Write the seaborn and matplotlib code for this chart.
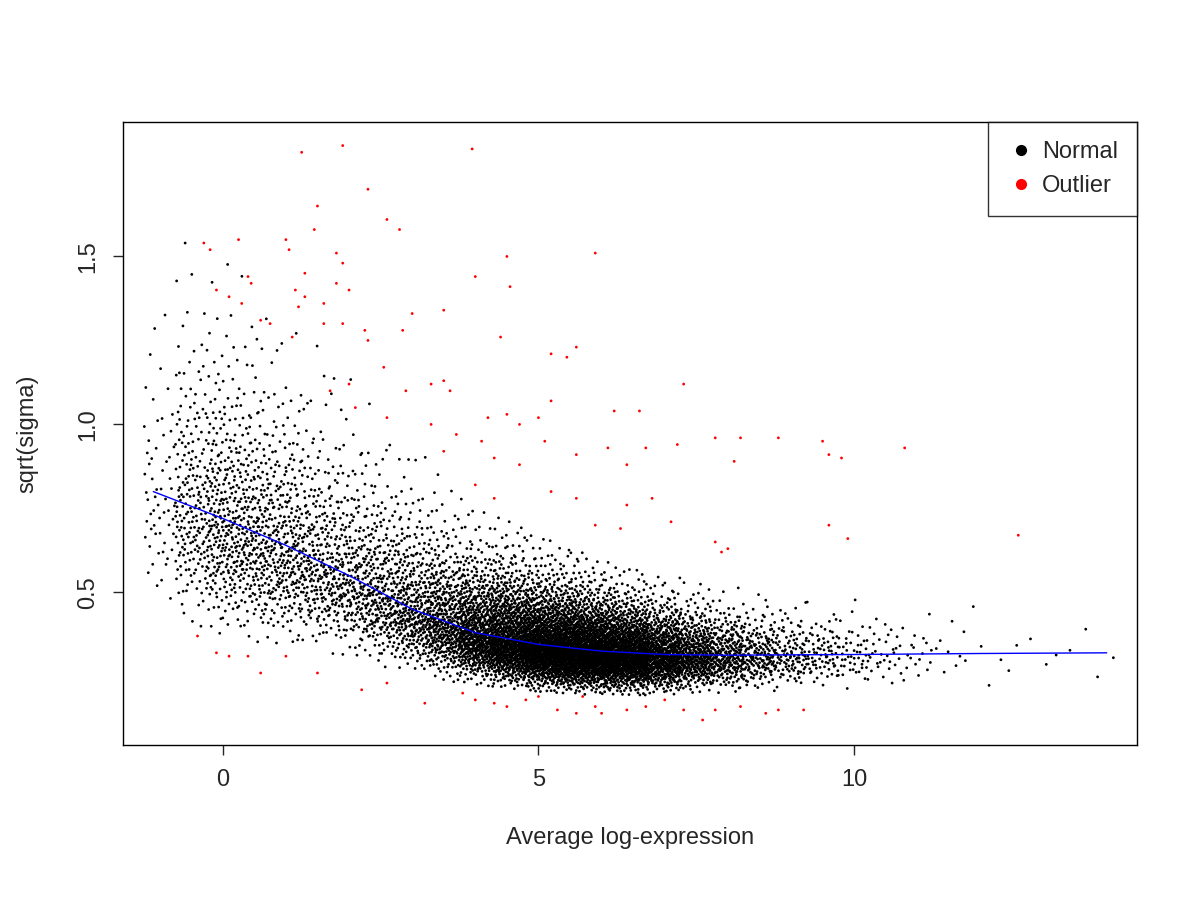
import numpy as np
import pandas as pd
import matplotlib
matplotlib.use("Agg")
import matplotlib.pyplot as plt
from matplotlib.lines import Line2D
import seaborn as sns
from statistics import NormalDist

# ── trend line ───────────────────────────────────────────────────────────
trend_x = [-1.1, 0, 1, 2, 3, 4, 5, 6, 7, 8, 10, 12, 14]
trend_y = [0.80, 0.72, 0.64, 0.55, 0.45, 0.38, 0.345, 0.325, 0.315, 0.313, 0.315, 0.318, 0.32]

# ── black cloud, summarised per 0.5-wide bin (count, spread up / down) ───
bin_x = [-1, -0.5, 0, 0.5, 1, 1.5, 2, 2.5, 3, 3.5, 4, 4.5, 5, 5.5, 6, 6.5,
         7, 7.5, 8, 8.5, 9, 9.5, 10, 10.5, 11, 11.5, 12, 12.5, 13, 13.5, 14]
bin_n = [60, 200, 280, 280, 260, 240, 240, 270, 320, 420, 600, 780, 920, 980, 940, 800,
         600, 400, 260, 170, 110, 75, 50, 30, 18, 8, 4, 3, 3, 2, 2]
bin_up = [0.27, 0.28, 0.28, 0.28, 0.28, 0.28, 0.28, 0.28, 0.28, 0.27, 0.26, 0.26, 0.25, 0.24,
          0.23, 0.22, 0.21, 0.20, 0.19, 0.18, 0.18, 0.17, 0.16, 0.16, 0.16, 0.16, 0.16,
          0.16, 0.16, 0.16, 0.16]
bin_dn = [0.22, 0.24, 0.25, 0.25, 0.24, 0.23, 0.22, 0.22, 0.21, 0.21, 0.20, 0.20, 0.20, 0.20,
          0.19, 0.19, 0.18, 0.17, 0.17, 0.16, 0.15, 0.15, 0.15, 0.15, 0.15, 0.15, 0.15,
          0.15, 0.15, 0.15, 0.15]

# ── red outliers ─────────────────────────────────────────────────────────
out_x = [1.25, 1.9, 3.95, 2.3, 1.5, 2.6, 2.8, 1.45, -0.3, -0.2, 0.25, 1.0, 1.05, 4.5, 5.9, 1.8, 1.9,
         4.0, 1.3, 0.4, 0.45, -0.1, 0.1, 1.15, 1.3, 2.0, 1.8, 4.55, 0.3, 1.2, 1.6, 3.5, 0.6, 0.75,
         1.6, 1.9, 2.25, 2.85, 3.0, 2.3, 4.4, 5.2, 5.6, 5.45, 1.1, 2.0, 2.55, 3.3, 3.6, 3.5, 7.3,
         2.9, 1.7, 2.1, 2.6, 3.3, 3.7, 4.2, 4.5, 4.7, 5.2, 6.2, 6.6, 5.0, 4.1, 5.1, 3.5, 4.3, 4.7,
         5.6, 6.1, 6.4, 6.7, 7.2, 7.8, 8.2, 8.8, 9.5, 9.6, 9.8, 10.8, 8.1, 4.0, 4.3, 5.2, 5.6, 6.4,
         6.8, 5.9, 6.3, 7.1, 7.8, 8.0, 7.9, 9.6, 9.9, 12.6, 0.6, -0.4, -0.1, 0.1, 0.4, 1.0, 1.5,
         2.2, 2.6, 3.2, 4.0, 4.3, 4.5, 5.0, 5.3, 5.6, 5.9, 6.0, 6.4, 6.7, 7.0, 7.3, 7.6, 7.8, 8.2,
         8.6, 8.8, 9.2, 3.8, 4.8, 5.7]
out_y = [1.81, 1.83, 1.82, 1.70, 1.65, 1.61, 1.58, 1.58, 1.54, 1.52, 1.55, 1.55, 1.52, 1.50, 1.51,
         1.51, 1.48, 1.44, 1.45, 1.44, 1.42, 1.40, 1.38, 1.40, 1.38, 1.40, 1.42, 1.41, 1.36, 1.35,
         1.36, 1.34, 1.31, 1.30, 1.30, 1.30, 1.28, 1.28, 1.33, 1.25, 1.26, 1.21, 1.23, 1.20, 1.26,
         1.12, 1.17, 1.12, 1.10, 1.13, 1.12, 1.10, 1.10, 1.05, 1.02, 1.00, 0.97, 1.02, 1.03, 1.00,
         1.07, 1.04, 1.04, 1.02, 0.95, 0.95, 0.92, 0.90, 0.88, 0.91, 0.93, 0.88, 0.93, 0.94, 0.96,
         0.96, 0.96, 0.95, 0.91, 0.90, 0.93, 0.89, 0.82, 0.78, 0.80, 0.78, 0.76, 0.78, 0.70, 0.69,
         0.71, 0.65, 0.63, 0.62, 0.70, 0.66, 0.67, 0.26, 0.37, 0.32, 0.31, 0.31, 0.31, 0.26, 0.21,
         0.23, 0.17, 0.18, 0.17, 0.16, 0.19, 0.15, 0.14, 0.16, 0.14, 0.15, 0.16, 0.18, 0.15, 0.12,
         0.15, 0.16, 0.14, 0.15, 0.15, 0.20, 0.18, 0.19]


def halton(i, base):
    f, r = 1.0, 0.0
    while i > 0:
        f /= base
        r += f * (i % base)
        i //= base
    return r


# expand bin summaries into a deterministic cloud (Halton sequence -> quantiles)
nd = NormalDist()
cx, cy = [], []
k = 1
for bx, n, su, sd in zip(bin_x, bin_n, bin_up, bin_dn):
    for i in range(n):
        u = halton(k, 2)
        v = halton(k, 3)
        k += 1
        z = max(-2.6, min(2.6, nd.inv_cdf(0.002 + 0.996 * v)))
        xx = bx + (u - 0.5) * 0.5
        med = np.interp(xx, trend_x, trend_y)
        cx.append(xx)
        cy.append(med * np.exp((su if z > 0 else sd) * z))

df = pd.DataFrame({
    "x": np.concatenate([cx, out_x]),
    "y": np.concatenate([cy, out_y]),
    "status": ["Normal"] * len(cx) + ["Outlier"] * len(out_x),
})

sns.set_style("white")
plt.rcParams["font.family"] = ["Liberation Sans", "DejaVu Sans"]

fig = plt.figure(figsize=(12, 9), dpi=100)
ax = fig.add_axes([0.1025, 0.172, 0.845, 0.692])
sns.scatterplot(data=df, x="x", y="y", hue="status",
                palette={"Normal": "black", "Outlier": "#FF0000"},
                s=4, linewidth=0, legend=False, ax=ax)
sns.lineplot(x=trend_x, y=trend_y, color="blue", linewidth=1, ax=ax)

ax.set_xlim(-1.58, 14.48)
ax.set_ylim(0.045, 1.899)
ax.set_xticks([0, 5, 10])
ax.set_yticks([0.5, 1.0, 1.5])
ax.set_yticklabels(["0.5", "1.0", "1.5"], rotation=90, va="center")
ax.tick_params(labelsize=17, direction="out", length=7, width=1, left=True, bottom=True, pad=10)
for sp in ax.spines.values():
    sp.set_color("black")
    sp.set_linewidth(1)
ax.set_xlabel("Average log-expression", fontsize=17, labelpad=26)
ax.set_ylabel("sqrt(sigma)", fontsize=17, labelpad=28)

handles = [Line2D([], [], marker="o", ls="", color="black", markersize=7),
           Line2D([], [], marker="o", ls="", color="#FF0000", markersize=7)]
leg = ax.legend(handles, ["Normal", "Outlier"], loc="upper right", fontsize=17,
                frameon=True, fancybox=False, borderaxespad=0, handletextpad=0.3,
                handlelength=1.2, borderpad=0.8, labelspacing=0.5)
leg.get_frame().set_edgecolor("black")
leg.get_frame().set_linewidth(1)

fig.savefig("out.png", dpi=100)
